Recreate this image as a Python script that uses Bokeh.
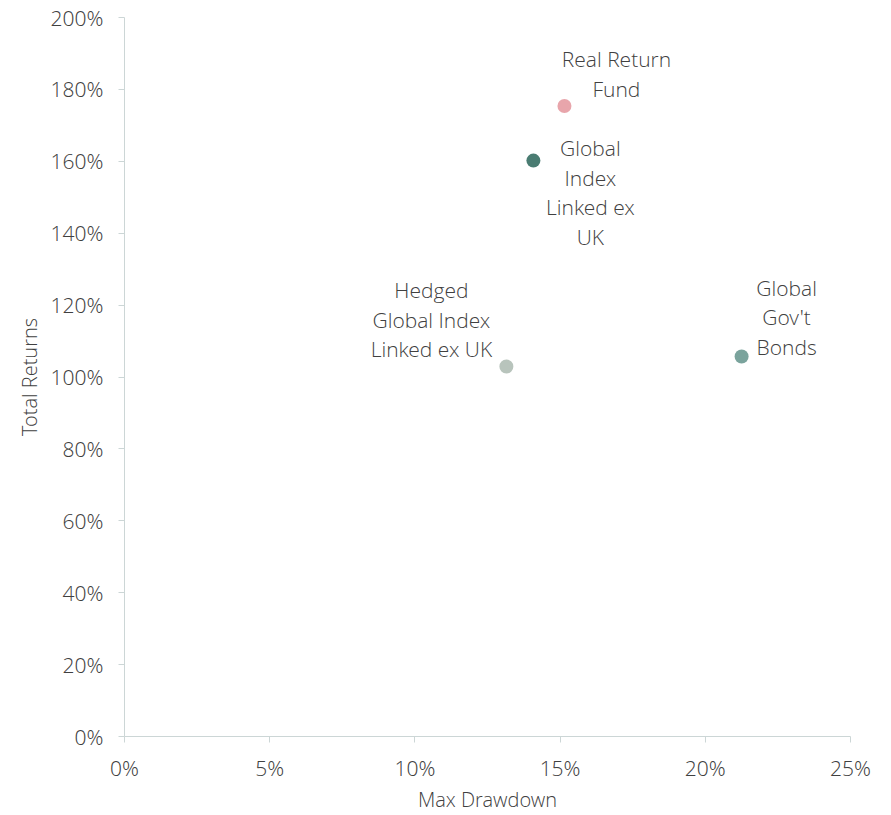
from bokeh.plotting import figure
from bokeh.models import ColumnDataSource, NumeralTickFormatter, FixedTicker, Range1d
from bokeh.core.properties import value
from bokeh.embed import file_html
from bokeh.resources import INLINE

names = ["Real Return\nFund", "Global\nIndex\nLinked ex\nUK", "Hedged\nGlobal Index\nLinked ex UK", "Global\nGov't\nBonds"]
max_drawdown = [0.1515, 0.1408, 0.1315, 0.2125]
total_returns = [1.754, 1.602, 1.029, 1.057]
colors = ["#e8a5ab", "#4a7c72", "#b8c4bc", "#7aa39c"]
x_ticks = [0, 0.05, 0.10, 0.15, 0.20, 0.25]
y_ticks = [0, 0.2, 0.4, 0.6, 0.8, 1.0, 1.2, 1.4, 1.6, 1.8, 2.0]

# label offsets in screen pixels (style)
label_dx = [52, 57, -75, 45]
label_dy = [-32, 32, -47, -39]

FONT = "Open Sans Light"
TXT = "#404040"
AXC = "#ccd6d6"

src = ColumnDataSource(dict(x=max_drawdown, y=total_returns, c=colors, t=names, dx=label_dx, dy=label_dy))

p = figure(width=891, height=815, output_backend="svg", toolbar_location=None,
           x_range=Range1d(0, 0.25), y_range=Range1d(0, 2.0),
           min_border_left=124, min_border_right=41, min_border_top=17, min_border_bottom=75)
p.outline_line_color = None
p.xgrid.visible = False
p.ygrid.visible = False
p.background_fill_color = "white"
p.border_fill_color = "white"

p.scatter("x", "y", source=src, size=14, fill_color="c", line_color=None)
p.text("x", "y", text="t", source=src, x_offset="dx", y_offset="dy",
       text_align="center", text_baseline="middle", text_font=value(FONT),
       text_font_size="21px", text_color=TXT, text_line_height=1.05)

for ax in (p.xaxis[0], p.yaxis[0]):
    ax.axis_line_color = AXC
    ax.major_tick_line_color = AXC
    ax.minor_tick_line_color = None
    ax.major_tick_in = 0
    ax.major_tick_out = 6
    ax.major_label_text_font = FONT
    ax.major_label_text_font_size = "21px"
    ax.major_label_text_color = TXT
    ax.axis_label_text_font = FONT
    ax.axis_label_text_font_size = "20px"
    ax.axis_label_text_color = TXT
    ax.axis_label_text_font_style = "normal"

p.xaxis.ticker = FixedTicker(ticks=x_ticks)
p.yaxis.ticker = FixedTicker(ticks=y_ticks)
p.xaxis.formatter = NumeralTickFormatter(format="0%")
p.yaxis.formatter = NumeralTickFormatter(format="0%")
p.xaxis.axis_label = "Max Drawdown"
p.yaxis.axis_label = "Total Returns"
p.xaxis.major_label_standoff = 11
p.yaxis.major_label_standoff = 15
p.xaxis.axis_label_standoff = 1
p.yaxis.axis_label_standoff = 5

open("out.html", "w").write(file_html(p, INLINE))
